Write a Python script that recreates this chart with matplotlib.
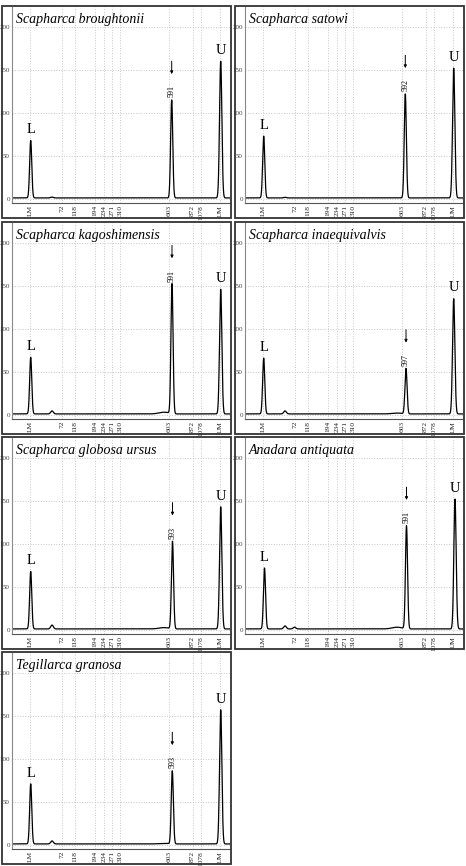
import numpy as np
import matplotlib.pyplot as plt
from matplotlib.patches import Rectangle

# ladder (size standard) positions along the run and their labels
ladder_pos = [18, 50.3, 62.7, 83.3, 91.7, 100, 108, 157.3, 180.7, 189, 208]
ladder_lab = ["LM", "72", "118", "194", "234", "271", "310", "603", "872", "1078", "UM"]

species = ["Scapharca broughtonii", "Scapharca satowi", "Scapharca kagoshimensis",
           "Scapharca inaequivalvis", "Scapharca globosa ursus", "Anadara antiquata",
           "Tegillarca granosa"]
sample_bp = ["591", "592", "591", "597", "593", "591", "593"]
sample_x = [159.7, 160.3, 160.0, 161.0, 160.5, 161.5, 160.3]
lower_x = [18.7, 18.7, 18.7, 18.7, 18.7, 19.5, 18.7]
upper_x = [208.7, 208.7, 208.7, 208.7, 208.7, 210.0, 208.7]
lower_h = [68, 73, 67, 66, 68, 72, 71]
sample_h = [115, 122, 152, 54, 103, 121, 86]
upper_h = [160, 152, 146, 135, 143, 152, 157]
bump_h = [1.0, 0.8, 3.5, 3.5, 4.5, 3.5, 3.5]
bump2_h = [0, 0, 0, 0, 0, 2.0, 0]
hump_h = [0, 0, 2.0, 1.0, 1.5, 2.0, 0.5]

plt.rcParams['font.family'] = ['Liberation Serif', 'DejaVu Serif']

W, H = 466, 866
fig = plt.figure(figsize=(W / 100, H / 100), dpi=100)

box_tops = [6, 222, 437, 652]
box_lefts = [2, 235]
box_w, box_h = 229, 212

x = np.linspace(0, 218, 3000)

def peak(c, h, s):
    return h * np.exp(-0.5 * ((x - c) / s) ** 2)

for i, name in enumerate(species):
    r, c = divmod(i, 2)
    bl, bt = box_lefts[c], box_tops[r]
    fig.add_artist(Rectangle((bl / W, 1 - (bt + box_h) / H), box_w / W, box_h / H,
                             transform=fig.transFigure, fill=False,
                             edgecolor='#333333', lw=1.3))
    al = bl + 10
    ab = bt + 197
    ax = fig.add_axes([al / W, 1 - ab / H, (box_w - 11) / W, 196 / H])

    y = 1.2 + peak(lower_x[i], lower_h[i] - 1.2, 1.05)
    y += peak(sample_x[i], sample_h[i] - 1.2, 1.05)
    y += peak(upper_x[i], upper_h[i] - 1.2, 1.15)
    y += peak(40, bump_h[i], 1.3) + peak(49.5, bump2_h[i], 1.3)
    y += hump_h[i] * np.exp(-0.5 * ((x - 152) / 5) ** 2) * (x < sample_x[i])
    ax.plot(x, y, color='black', lw=0.9)

    ax.set_xlim(0, 218)
    ax.set_ylim(-4.7, 223)
    ax.set_xticks(ladder_pos)
    ax.set_xticklabels(ladder_lab, rotation=90, fontsize=5.3, color='#222222')
    ax.set_yticks([0, 50, 100, 150, 200])
    ax.set_yticklabels(["0", "50", "100", "150", "200"], fontsize=5, color='#444444')
    ax.tick_params(length=0, pad=1.5)
    ax.grid(True, color='#c8c8c8', ls=':', lw=0.7)
    for s in ['top', 'right']:
        ax.spines[s].set_visible(False)
    ax.spines['left'].set_color('#888888')
    ax.spines['bottom'].set_color('#555555')
    ax.spines['left'].set_linewidth(0.8)
    ax.spines['bottom'].set_linewidth(0.8)

    ax.text(4, 209, name, style='italic', fontsize=10, va='center', ha='left')
    ax.text(lower_x[i], lower_h[i] + 5, "L", fontsize=10.5, ha='center', va='bottom')
    ax.text(upper_x[i], upper_h[i] + 5, "U", fontsize=10.5, ha='center', va='bottom')
    ax.text(sample_x[i], sample_h[i] + 3, sample_bp[i], rotation=90, fontsize=5.8,
            ha='center', va='bottom')
    ax.annotate("", xy=(sample_x[i], sample_h[i] + 30), xytext=(sample_x[i], sample_h[i] + 45),
                arrowprops=dict(arrowstyle='-|>', color='black', lw=0.7,
                                mutation_scale=4, shrinkA=0, shrinkB=0))

fig.savefig("out.png", dpi=100)
